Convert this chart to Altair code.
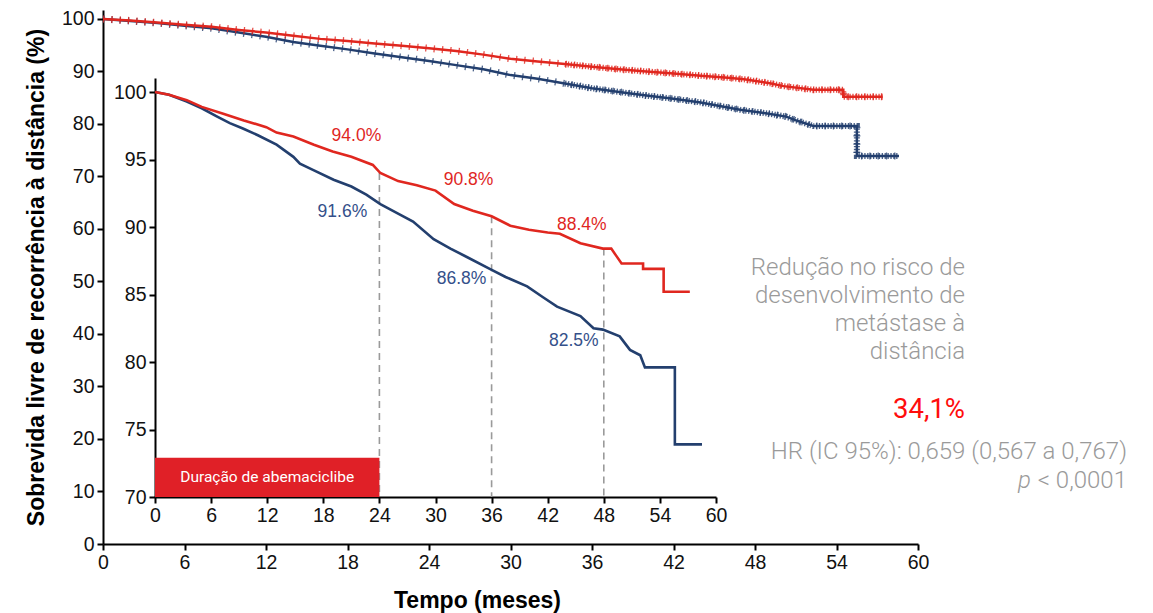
import altair as alt
import pandas as pd

# ---------------- data ----------------
# Main Kaplan-Meier curves (months, % free of distant recurrence)
main_abema_t = [0, 2, 4, 6, 8, 10, 12, 14, 16, 18, 20, 22, 24, 26, 28, 30, 32, 34, 36, 38, 40, 42, 44, 46,
                47.2, 49.1, 50.1, 52.3, 54.5, 54.5, 57.4]
main_abema_s = [100, 99.7, 99.3, 98.9, 98.5, 97.9, 97.4, 96.8, 96.2, 95.8, 95.3, 94.9, 94.4, 93.9, 93.2, 92.4,
                91.9, 91.4, 90.9, 90.4, 90.0, 89.6, 89.2, 88.8, 88.5, 87.75, 87.2, 86.5, 86.5, 85.2, 85.2]
main_et_t = [0, 2, 4, 6, 8, 10, 12, 14, 16, 18, 20, 22, 24, 26, 28, 30, 32, 34, 36, 38, 40, 42, 44, 46.9,
             48.9, 50.3, 51.1, 52.3, 55.5, 55.5, 58.6]
main_et_s = [100, 99.6, 99.2, 98.7, 98.2, 97.4, 96.6, 95.6, 94.9, 94.2, 93.4, 92.7, 92.0, 91.2, 90.4, 89.3,
             88.6, 87.7, 86.8, 86.1, 85.4, 84.8, 84.1, 82.7, 82.0, 81.4, 80.6, 79.6, 79.6, 73.9, 73.9]

# Inset (zoomed 70-100 %)
inset_abema_t = [0, 1.5, 3.4, 5, 7.3, 9.5, 11.9, 13, 14.8, 17, 19, 21, 23.3, 24.1, 26, 28, 30, 32, 34, 36,
                 38, 40, 42, 43.3, 45.5, 47.9, 48.8, 49.3, 49.9, 52.2, 52.2, 54.4, 54.4, 57.2]
inset_abema_s = [100, 99.8, 99.4, 98.9, 98.4, 97.9, 97.4, 97.0, 96.7, 96.1, 95.6, 95.2, 94.6, 94.0, 93.4,
                 93.1, 92.7, 91.7, 91.2, 90.8, 90.1, 89.8, 89.6, 89.5, 88.8, 88.4, 88.4, 87.9, 87.3, 87.3,
                 86.9, 86.9, 85.2, 85.2]
inset_et_t = [0, 1.5, 3.4, 5, 6.6, 8, 9.4, 11, 13, 14.8, 15.5, 17, 19.1, 21, 22.6, 24.1, 26, 27.6, 29.8,
              31.6, 33.3, 35.8, 37.5, 39.8, 41.5, 43, 45.5, 46.9, 47.9, 49.7, 50.8, 51.9, 52.4, 55.6, 55.6,
              58.5]
inset_et_s = [100, 99.8, 99.3, 98.8, 98.2, 97.7, 97.3, 96.8, 96.1, 95.2, 94.7, 94.2, 93.5, 93.0, 92.4, 91.7,
              91.0, 90.4, 89.1, 88.4, 87.8, 86.9, 86.3, 85.6, 84.8, 84.1, 83.4, 82.5, 82.4, 81.9, 80.9, 80.5,
              79.6, 79.6, 73.9, 73.9]

milestone_months = [24, 36, 48]
milestone_abema = [94.0, 90.8, 88.4]
milestone_et = [91.6, 86.8, 82.5]
abema_labels = ["94.0%", "90.8%", "88.4%"]
et_labels = ["91.6%", "86.8%", "82.5%"]

treatment_span = [0, 24]
treatment_label = "Duração de abemaciclibe"

x_ticks = [0, 6, 12, 18, 24, 30, 36, 42, 48, 54, 60]
main_y_ticks = [0, 10, 20, 30, 40, 50, 60, 70, 80, 90, 100]
inset_y_ticks = [70, 75, 80, 85, 90, 95, 100]

note_lines = ["Redução no risco de", "desenvolvimento de", "metástase à", "distância"]
note_value = "34,1%"
note_hr = "HR (IC 95%): 0,659 (0,567 a 0,767)"
note_p_sym = "p"
note_p_rest = "< 0,0001"

# ---------------- styles ----------------
RED = "#e0271f"
NAVY = "#233f6e"
GREY = "#9a9a9a"
W, H = 815, 534
AX = "Liberation Sans"


def curve(t, s):
    return pd.DataFrame({"t": t, "s": s, "i": list(range(len(t)))})


# ---------------- main plot ----------------
mx = alt.Scale(domain=[0, 60], nice=False, zero=False)
my = alt.Scale(domain=[0, 101.7], nice=False, zero=False)
main_x_axis = alt.Axis(values=x_ticks, title="Tempo (meses)", titleX=374, titleY=63,
                       titleBaseline="alphabetic", labelPadding=3, orient="bottom", labelFlush=False)
main_y_axis = alt.Axis(values=main_y_ticks, title="Sobrevida livre de recorrência à distância (%)",
                       titlePadding=13, labelPadding=3, orient="left", labelFlush=False)


def main_layers(t, s, color):
    base = alt.Chart(curve(t, s)).encode(
        x=alt.X("t:Q", scale=mx, axis=main_x_axis),
        y=alt.Y("s:Q", scale=my, axis=main_y_axis),
        order="i:Q",
    )
    line = base.mark_line(color=color, strokeWidth=2.5)
    cens = base.mark_line(color=color, strokeWidth=7, strokeDash=[1.3, 7], opacity=0.8)
    dense = base.transform_filter("datum.t >= 33").mark_line(
        color=color, strokeWidth=6, strokeDash=[1.3, 1.6], opacity=0.85)
    return [line, cens, dense]


main = alt.layer(*main_layers(main_et_t, main_et_s, NAVY),
                 *main_layers(main_abema_t, main_abema_s, RED))

# ---------------- inset ----------------
ix = alt.Scale(domain=[0, 60], range=[52, 613], nice=False, zero=False)
iy = alt.Scale(domain=[70, 101.04], range=[487, 68], nice=False, zero=False)
inset_x_axis = alt.Axis(values=x_ticks, title=None, orient="bottom", offset=-47, labelPadding=3,
                        labelFlush=False)
inset_y_axis = alt.Axis(values=inset_y_ticks, title=None, orient="left", offset=-52, labelPadding=3,
                        labelFlush=False)

ms = pd.DataFrame({"t": milestone_months, "a": milestone_abema, "e": milestone_et,
                   "la": abema_labels, "le": et_labels})

rules = alt.Chart(ms).mark_rule(color=GREY, strokeWidth=1.6, strokeDash=[7, 5]).encode(
    x=alt.X("t:Q", scale=ix, axis=inset_x_axis),
    y=alt.Y("a:Q", scale=iy, axis=inset_y_axis),
    y2=alt.Y2("base:Q"),
).transform_calculate(base="70")

box_df = pd.DataFrame({"x0": [treatment_span[0]], "x1": [treatment_span[1]],
                       "xm": [sum(treatment_span) / 2], "lab": [treatment_label]})
box = alt.Chart(box_df).mark_rect(color="#e02027").encode(
    x=alt.X("x0:Q", scale=ix, axis=inset_x_axis), x2="x1:Q",
    y=alt.Y("y0:Q", scale=iy, axis=inset_y_axis), y2="y1:Q",
).transform_calculate(y0="70", y1="72.9")
box_text = alt.Chart(box_df).mark_text(color="white", font="Roboto", fontSize=15.5,
                                       baseline="middle", align="center").encode(
    x=alt.X("xm:Q", scale=ix, axis=inset_x_axis), y=alt.Y("ym:Q", scale=iy, axis=inset_y_axis),
    text="lab:N"
).transform_calculate(ym="71.45")

inset_et = alt.Chart(curve(inset_et_t, inset_et_s)).mark_line(color=NAVY, strokeWidth=2.6).encode(
    x=alt.X("t:Q", scale=ix, axis=inset_x_axis), y=alt.Y("s:Q", scale=iy, axis=inset_y_axis),
    order="i:Q")
inset_ab = alt.Chart(curve(inset_abema_t, inset_abema_s)).mark_line(color=RED, strokeWidth=2.6).encode(
    x=alt.X("t:Q", scale=ix, axis=inset_x_axis), y=alt.Y("s:Q", scale=iy, axis=inset_y_axis),
    order="i:Q")

lab_dx_a = [-23, -23, -22]
lab_dy_a = [-37, -36, -24]
lab_dx_e = [-37, -30, -30]
lab_dy_e = [7, 9, 13]
label_layers = []
for k in range(len(milestone_months)):
    row = ms.iloc[[k]]
    label_layers.append(alt.Chart(row).mark_text(
        color=RED, font=AX, fontSize=17.5, dx=lab_dx_a[k], dy=lab_dy_a[k], baseline="middle").encode(
        x=alt.X("t:Q", scale=ix, axis=inset_x_axis), y=alt.Y("a:Q", scale=iy, axis=inset_y_axis),
        text="la:N"))
    label_layers.append(alt.Chart(row).mark_text(
        color="#34508a", font=AX, fontSize=17.5, dx=lab_dx_e[k], dy=lab_dy_e[k], baseline="middle").encode(
        x=alt.X("t:Q", scale=ix, axis=inset_x_axis), y=alt.Y("e:Q", scale=iy, axis=inset_y_axis),
        text="le:N"))

inset = alt.layer(rules, box, box_text, inset_et, inset_ab, *label_layers)

# ---------------- side notes ----------------
txt = pd.DataFrame({"k": [0]})
FS = 24
note_layers = []
for k, line_txt in enumerate(note_lines):
    note_layers.append(alt.Chart(txt).mark_text(
        text=line_txt, font="Roboto", fontWeight=300, fontSize=FS, color=GREY, align="right",
        baseline="middle").encode(x=alt.value(862), y=alt.value(258 + 28 * k)))
note_layers.append(alt.Chart(txt).mark_text(
    text=note_value, font="Roboto", fontWeight=400, fontSize=27.5, color="#ff0d0d", align="right",
    baseline="middle").encode(x=alt.value(862), y=alt.value(400)))
note_layers.append(alt.Chart(txt).mark_text(
    text=note_hr, font="Roboto", fontWeight=300, fontSize=FS, color=GREY, align="right",
    baseline="middle").encode(x=alt.value(1024), y=alt.value(442)))
note_layers.append(alt.Chart(txt).mark_text(
    text=note_p_rest, font="Roboto", fontWeight=300, fontSize=FS, color=GREY, align="right",
    baseline="middle").encode(x=alt.value(1024), y=alt.value(471)))
note_layers.append(alt.Chart(txt).mark_text(
    text=note_p_sym, font="Roboto", fontWeight=300, fontStyle="italic", fontSize=FS, color=GREY,
    align="right", baseline="middle").encode(x=alt.value(928), y=alt.value(471)))
notes = alt.layer(*note_layers)

chart = alt.layer(main, inset, notes).resolve_scale(x="independent", y="independent").properties(
    width=W, height=H,
    autosize=alt.AutoSizeParams(type="none"),
    padding={"left": 103, "top": 10, "right": 235, "bottom": 69},
).configure_view(stroke=None).configure_axis(
    labelFont=AX, labelFontSize=19.5, labelColor="#111111",
    domainColor="#000000", domainWidth=2, tickColor="#000000", tickWidth=2, tickSize=6,
    grid=False, titleFont=AX, titleFontSize=23, titleFontWeight="bold", titleColor="#000000",
)

chart.save("out.html", embed_options={"renderer": "svg", "actions": False})
